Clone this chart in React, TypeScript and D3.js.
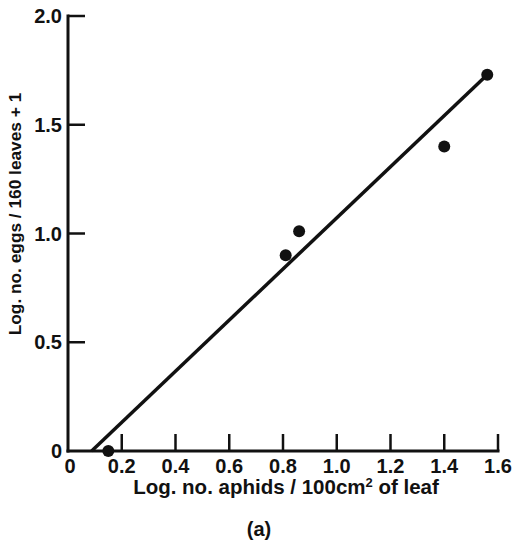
import React from "react";
import * as d3 from "d3";

const pointsX = [0.15, 0.81, 0.86, 1.40, 1.56];
const pointsY = [0.0, 0.90, 1.01, 1.40, 1.73];
const lineX = [0.088, 1.56];
const lineY = [0.0, 1.73];
const xTicks = [0, 0.2, 0.4, 0.6, 0.8, 1.0, 1.2, 1.4, 1.6];
const xTickLabels = ["0", "0.2", "0.4", "0.6", "0.8", "1.0", "1.2", "1.4", "1.6"];
const yTicks = [0, 0.5, 1.0, 1.5, 2.0];
const yTickLabels = ["0", "0.5", "1.0", "1.5", "2.0"];

const W = 514, H = 543;
const x = d3.scaleLinear().domain([0, 1.6]).range([68, 498]);
const y = d3.scaleLinear().domain([0, 2.0]).range([451, 16]);
const font = "'Liberation Sans', Arial, sans-serif";

export default function App() {
  const line = d3.line<number>().x((d) => x(lineX[d])).y((d) => y(lineY[d]))([0, 1]) || "";
  return (
    <svg width={W} height={H} style={{ position: "absolute", left: 0, top: 0, background: "#fff" }}>
      <g stroke="#111" strokeWidth={3} fill="none" strokeLinecap="butt">
        <line x1={x(0)} x2={x(0)} y1={y(2.0) - 1.5} y2={y(0) + 1.5} />
        <line x1={x(0) - 1.5} x2={x(1.6) + 1.5} y1={y(0)} y2={y(0)} />
        {xTicks.slice(1).map((t) => (
          <line key={"xt" + t} x1={x(t)} x2={x(t)} y1={y(0)} y2={y(0) - 17} strokeWidth={2.5} />
        ))}
        {yTicks.slice(1).map((t) => (
          <line key={"yt" + t} x1={x(0)} x2={x(0) + 17} y1={y(t)} y2={y(t)} strokeWidth={2.5} />
        ))}
        <path d={line} strokeWidth={3.5} />
      </g>
      <g fill="#111">
        {pointsX.map((px, i) => (
          <circle key={i} cx={x(px)} cy={y(pointsY[i])} r={6} />
        ))}
      </g>
      <g fontFamily={font} fontWeight="bold" fontSize={20} fill="#111">
        {xTicks.map((t, i) => (
          <text key={"xl" + t} x={x(t) + (i === 0 ? 2 : 0)} y={473} textAnchor="middle">
            {xTickLabels[i]}
          </text>
        ))}
        {yTicks.map((t, i) => (
          <text key={"yl" + t} x={62} y={i === 0 ? 458 : y(t) + 7} textAnchor="end">
            {yTickLabels[i]}
          </text>
        ))}
        <text x={286} y={494} textAnchor="middle" fontSize={20.5}>
          Log. no. aphids / 100cm<tspan fontSize={13} dy={-7}>2</tspan>
          <tspan dy={7}> of leaf</tspan>
        </text>
        <text transform={`translate(21,214) rotate(-90)`} textAnchor="middle" fontSize={17.3}>
          Log. no. eggs / 160 leaves + 1
        </text>
        <text x={259} y={536} textAnchor="middle" fontSize={20}>(a)</text>
      </g>
    </svg>
  );
}
